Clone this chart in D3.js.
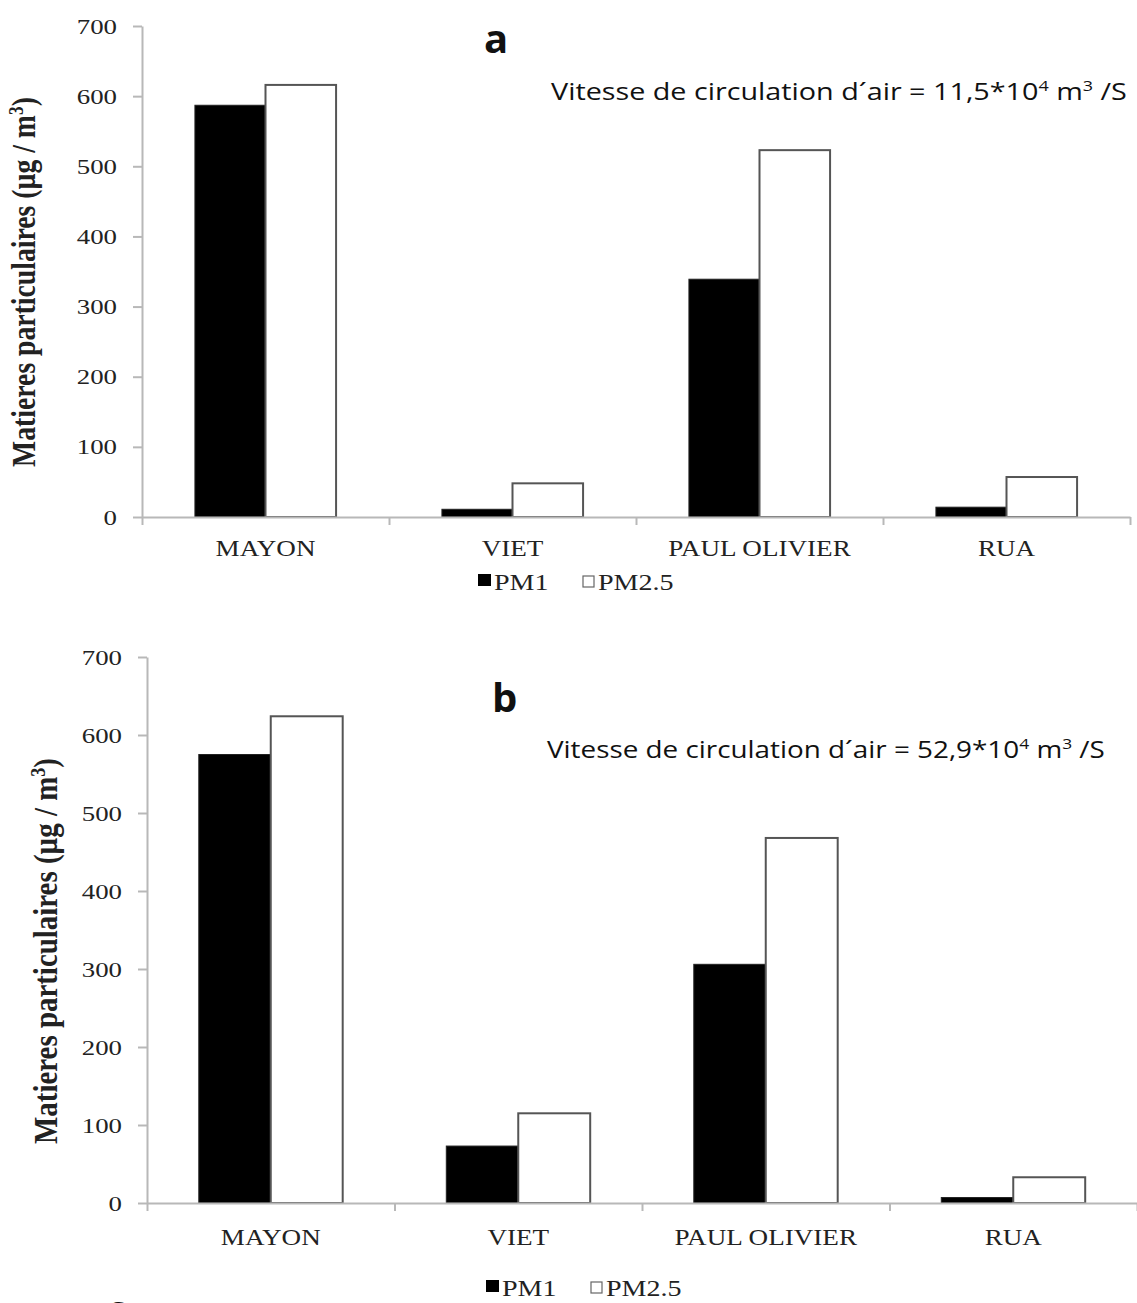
<!DOCTYPE html>
<html>
<head>
<meta charset="utf-8">
<script src="https://cdn.jsdelivr.net/npm/d3@7"></script>
<style>
  body { margin: 0; background: #fff; }
  svg { display: block; }
  .axis path, .axis line { stroke: #b8b8b8; stroke-width: 2; }
  .axis text { font-family: "Liberation Serif", "Times New Roman", serif; fill: #222; }
  .serif { font-family: "Liberation Serif", "Times New Roman", serif; fill: #222; }
  .sans { font-family: "Open Sans", "Noto Sans", sans-serif; fill: #111; }
</style>
</head>
<body>
<div id="chart"></div>
<script>
const categories = ['MAYON', 'VIET', 'PAUL OLIVIER', 'RUA'];
const series = ['PM1', 'PM2.5'];
const seriesFill = ['#000', '#fff'];

// panel a (11,5*10^4 m3/S)
const pm1A = [587, 11, 339, 14];
const pm25A = [616, 48, 523, 57];
// panel b (52,9*10^4 m3/S)
const pm1B = [575, 73, 306, 7];
const pm25B = [624, 115, 468, 33];

const yTicks = [0, 100, 200, 300, 400, 500, 600, 700];
const panelLetters = ['a', 'b'];
const flowRates = ['11,5', '52,9'];

const width = 1137;
const height = 1303;
const sx = 1.22; // the picture is stretched sideways, so serif text is too

const svg = d3.select('#chart')
  .append('svg')
  .attr('width', width)
  .attr('height', height);

// layout of each panel (pixels)
const layout = [
  { left: 142, right: 1130, zero: 517, top: 26, pad: 0.75,
    titleX: 35, titleY: 282, titleLen: 370, labelY: 556,
    letterX: 484, letterY: 53, noteX: 551, noteY: 100, noteW: 576,
    legendX: 478, legendY: 590 },
  { left: 147, right: 1137, zero: 1203, top: 657, pad: 0.72,
    titleX: 57, titleY: 951, titleLen: 386, labelY: 1245,
    letterX: 492, letterY: 712, noteX: 547, noteY: 758, noteW: 558,
    legendX: 486, legendY: 1296 }
];
const panelData = [[pm1A, pm25A], [pm1B, pm25B]];

function drawPanel(i) {
  const L = layout[i];
  const values = panelData[i];
  const rows = categories.map((c, k) => ({
    cat: c,
    vals: series.map((s, j) => ({ s, j, v: values[j][k] }))
  }));

  const g = svg.append('g');

  const x = d3.scaleBand().domain(categories).range([L.left, L.right]);
  const xs = d3.scaleBand().domain(series).range([0, x.bandwidth()])
    .paddingInner(0).paddingOuter(L.pad);
  const y = d3.scaleLinear().domain([0, 700]).range([L.zero, L.top]);
  // boundaries between categories for the tick marks
  const xb = d3.scaleLinear().domain([0, categories.length]).range([L.left, L.right]);

  // y axis
  const yAxis = g.append('g')
    .attr('class', 'axis')
    .attr('transform', `translate(${L.left},0)`)
    .call(d3.axisLeft(y).tickValues(yTicks).tickSize(9).tickSizeOuter(0).tickPadding(0));
  yAxis.selectAll('text')
    .attr('x', 0)
    .attr('font-size', 22)
    .attr('transform', `translate(-25,0) scale(${sx},1)`);

  // bars
  const groups = g.append('g')
    .selectAll('g')
    .data(rows)
    .join('g')
    .attr('transform', (d) => `translate(${x(d.cat)},0)`);

  groups.selectAll('rect')
    .data((d) => d.vals)
    .join('rect')
    .attr('x', (d) => xs(d.s))
    .attr('y', (d) => y(d.v))
    .attr('width', xs.bandwidth())
    .attr('height', (d) => y(0) - y(d.v))
    .attr('fill', (d) => seriesFill[d.j])
    .attr('stroke', (d) => d.j === 0 ? '#222' : '#555')
    .attr('stroke-width', (d) => d.j === 0 ? 1 : 2);

  // x axis line + boundary ticks
  g.append('g')
    .attr('class', 'axis')
    .attr('transform', `translate(0,${L.zero})`)
    .call(d3.axisBottom(xb).ticks(categories.length).tickFormat('').tickSize(8).tickSizeOuter(0));

  // category labels
  g.append('g')
    .selectAll('text')
    .data(categories)
    .join('text')
    .attr('class', 'serif')
    .attr('font-size', 24)
    .attr('text-anchor', 'middle')
    .attr('transform', (d) => `translate(${x(d) + x.bandwidth() / 2},${L.labelY}) scale(1.13,1)`)
    .text((d) => d);

  // y title
  const title = g.append('text')
    .attr('class', 'serif')
    .attr('font-size', 27)
    .attr('font-weight', 'bold')
    .attr('text-anchor', 'middle')
    .attr('fill', '#111');
  title.append('tspan').text('Matieres particulaires (µg / m');
  title.append('tspan').attr('font-size', 17).attr('dy', -10).text('3');
  title.append('tspan').attr('dy', 10).text(')');
  const tw = title.node().getBBox().width;
  title.attr('transform', `translate(${L.titleX},${L.titleY}) rotate(-90) scale(${L.titleLen / tw},1.22)`);

  // panel letter
  g.append('text')
    .attr('class', 'sans')
    .attr('font-size', 40)
    .attr('font-weight', 'bold')
    .attr('x', L.letterX)
    .attr('y', L.letterY)
    .text(panelLetters[i]);

  // air flow note
  const note = g.append('text')
    .attr('class', 'sans')
    .attr('font-size', 24);
  note.append('tspan').text(`Vitesse de circulation d´air = ${flowRates[i]}*10`);
  note.append('tspan').attr('font-size', 15).attr('dy', -9).text('4');
  note.append('tspan').attr('dy', 9).text(' m');
  note.append('tspan').attr('font-size', 15).attr('dy', -9).text('3');
  note.append('tspan').attr('dy', 9).text(' /S');
  const nw = note.node().getBBox().width;
  note.attr('transform', `translate(${L.noteX},${L.noteY}) scale(${L.noteW / nw},1)`);

  // legend
  const legend = g.append('g')
    .attr('transform', `translate(${L.legendX},${L.legendY})`);
  const item = legend.selectAll('g')
    .data(series)
    .join('g')
    .attr('transform', (d, j) => `translate(${j * 104},0)`);
  item.append('rect')
    .attr('x', (d, j) => j === 0 ? 0 : 1)
    .attr('y', (d, j) => j === 0 ? -16 : -14)
    .attr('width', (d, j) => j === 0 ? 13 : 11)
    .attr('height', (d, j) => j === 0 ? 12 : 11)
    .attr('fill', (d, j) => seriesFill[j])
    .attr('stroke', (d, j) => j === 0 ? 'none' : '#666')
    .attr('stroke-width', 1.2);
  item.append('text')
    .attr('class', 'serif')
    .attr('font-size', 23)
    .attr('transform', `translate(16,0) scale(${sx},1)`)
    .text((d) => d);
}

panelLetters.forEach((p, i) => drawPanel(i));

// start of the next panel's letter, cut by the bottom edge
svg.append('text')
  .attr('class', 'sans')
  .attr('font-size', 40)
  .attr('font-weight', 'bold')
  .attr('x', 106)
  .attr('y', 1324)
  .text('c');
</script>
</body>
</html>
